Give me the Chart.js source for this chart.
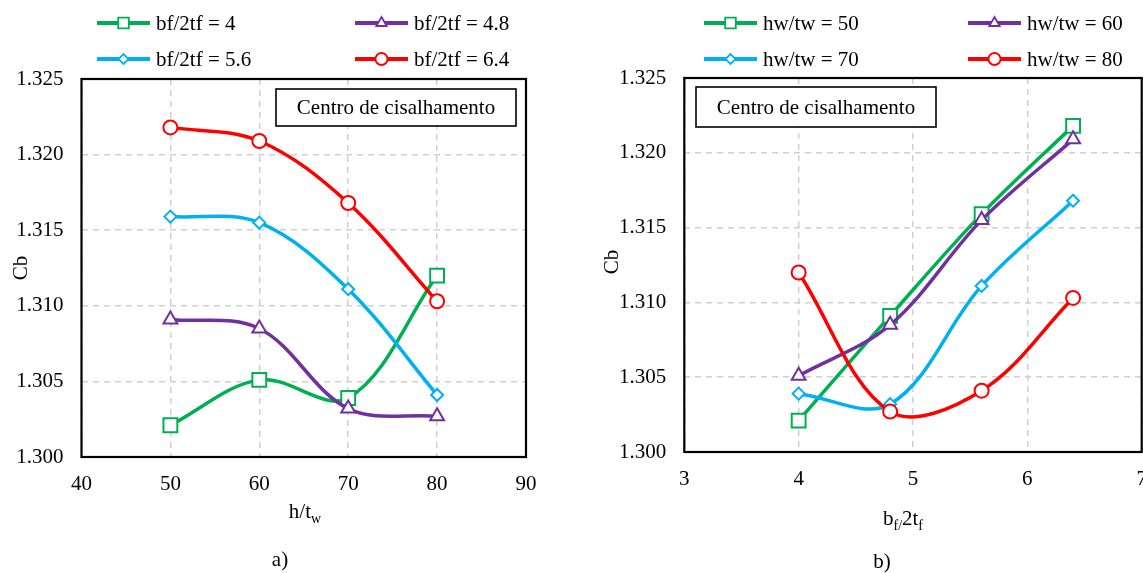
<!DOCTYPE html>
<html>
<head>
<meta charset="utf-8">
<script src="https://cdn.jsdelivr.net/npm/chart.js@4.4.0/dist/chart.umd.min.js"></script>
<style>
  html, body { margin: 0; padding: 0; background: #fff; }
  #wrap { position: relative; width: 1143px; height: 573px; }
  #wrap canvas { position: absolute; left: 0; top: 0; }
</style>
</head>
<body>
<div id="wrap">
  <canvas id="chartA" width="1143" height="573"></canvas>
  <canvas id="chartB" width="1143" height="573"></canvas>
</div>
<script>
// x values of the two plots
var hwValues = [50, 60, 70, 80];
var bfValues = [4, 4.8, 5.6, 6.4];

// Cb read off plot a), one array per bf/2tf curve (indexed by hwValues)
var cbBf4  = [1.3021, 1.3051, 1.3039, 1.3120];
var cbBf48 = [1.3091, 1.3085, 1.3032, 1.3027];
var cbBf56 = [1.3159, 1.3155, 1.3111, 1.3041];
var cbBf64 = [1.3218, 1.3209, 1.3168, 1.3103];

var leftLabels  = ['bf/2tf = 4', 'bf/2tf = 4.8', 'bf/2tf = 5.6', 'bf/2tf = 6.4'];
var rightLabels = ['hw/tw = 50', 'hw/tw = 60', 'hw/tw = 70', 'hw/tw = 80'];

var yTicks = [1.300, 1.305, 1.310, 1.315, 1.320, 1.325];
var leftXTicks = [40, 50, 60, 70, 80, 90];
var rightXTicks = [3, 4, 5, 6, 7];

var colors = ['#00b050', '#7030a0', '#00b0f0', '#ff0000'];
var styles = ['rect', 'triangle', 'rectRot', 'circle'];
var radii = [9.8, 8, 6, 7];
var legendRadii = [7.5, 6, 5, 6];

var FONT = "'Liberation Serif', 'Times New Roman', serif";

// plot b) uses the same numbers, read the other way round
var byBf = [cbBf4, cbBf48, cbBf56, cbBf64];
var byHw = $map(hwValues, function(_, j) {
    return $map(byBf, function(arr) { return arr[j]; });
});

function $map(arr, fn) {
    var out = [];
    for (var i = 0; i < arr.length; i++) out.push(fn(arr[i], i));
    return out;
}

function make_datasets(xs, series, labels) {
    return $map(series, function(ys, i) {
        return {
            label: labels[i],
            data: $map(xs, function(x, k) { return {x: x, y: ys[k]}; }),
            borderColor: colors[i],
            backgroundColor: '#fff',
            borderWidth: 3.5,
            pointStyle: styles[i],
            pointRadius: radii[i],
            pointBorderWidth: 2,
            pointBorderColor: colors[i],
            pointBackgroundColor: '#fff',
            tension: 0.35,
            order: series.length - 1 - i
        };
    });
}

function draw_marker(ctx, style, r, x, y) {
    if (Chart.helpers && Chart.helpers.drawPoint) {
        Chart.helpers.drawPoint(ctx, {pointStyle: style, radius: r, rotation: 0, borderWidth: ctx.lineWidth}, x, y);
        return;
    }
    ctx.beginPath();
    ctx.arc(x, y, r, 0, Math.PI * 2);
    ctx.fill();
    ctx.stroke();
}

// extra drawing: frame, legend, note box, axis titles
function decor_plugin(opt) {
    return {
        id: 'decor',
        beforeDatasetsDraw: function(chart) {
            var a = chart.chartArea, ctx = chart.ctx;
            ctx.save();
            ctx.strokeStyle = '#000';
            ctx.lineWidth = 2.2;
            ctx.strokeRect(a.left, a.top, a.right - a.left, a.bottom - a.top);
            ctx.restore();
        },
        afterDraw: function(chart) {
            var ctx = chart.ctx;
            ctx.save();
            // legend
            $map(opt.labels, function(label, i) {
                var pos = opt.legend[i];
                ctx.strokeStyle = colors[i];
                ctx.lineWidth = 4;
                ctx.beginPath();
                ctx.moveTo(pos[0], pos[1]);
                ctx.lineTo(pos[0] + 53, pos[1]);
                ctx.stroke();
                ctx.fillStyle = '#fff';
                ctx.lineWidth = 1.8;
                draw_marker(ctx, styles[i], legendRadii[i], pos[0] + 26.5, pos[1]);
                ctx.fillStyle = '#000';
                ctx.font = '21px ' + FONT;
                ctx.textAlign = 'left';
                ctx.textBaseline = 'middle';
                ctx.fillText(label, pos[0] + 59, pos[1] + 1);
            });
            // note box
            var b = opt.box;
            ctx.fillStyle = '#fff';
            ctx.fillRect(b[0], b[1], b[2], b[3]);
            ctx.strokeStyle = '#000';
            ctx.lineWidth = 1.6;
            ctx.strokeRect(b[0], b[1], b[2], b[3]);
            ctx.fillStyle = '#000';
            ctx.font = '21px ' + FONT;
            ctx.textAlign = 'center';
            ctx.textBaseline = 'middle';
            ctx.fillText('Centro de cisalhamento', b[0] + b[2] / 2, b[1] + b[3] / 2 + 1);
            // y title
            ctx.save();
            ctx.translate(opt.yTitle[0], opt.yTitle[1]);
            ctx.rotate(-Math.PI / 2);
            ctx.fillText('Cb', 0, 0);
            ctx.restore();
            // x title with subscripts
            var parts = opt.xTitle.parts;
            var total = 0;
            $map(parts, function(p) {
                ctx.font = (p[1] ? '14px ' : '21px ') + FONT;
                total += ctx.measureText(p[0]).width;
            });
            var x = opt.xTitle.x - total / 2;
            ctx.textAlign = 'left';
            ctx.textBaseline = 'alphabetic';
            $map(parts, function(p) {
                ctx.font = (p[1] ? '14px ' : '21px ') + FONT;
                ctx.fillText(p[0], x, opt.xTitle.y + (p[1] ? 5 : 0));
                x += ctx.measureText(p[0]).width;
            });
            // panel letter
            ctx.font = '21px ' + FONT;
            ctx.textAlign = 'center';
            ctx.textBaseline = 'middle';
            ctx.fillText(opt.panel[0], opt.panel[1], opt.panel[2]);
            ctx.restore();
        }
    };
}

function make_chart(id, o) {
    return new Chart(document.getElementById(id), {
        type: 'line',
        data: {datasets: make_datasets(o.xs, o.series, o.labels)},
        options: {
            responsive: false,
            animation: false,
            devicePixelRatio: 1,
            layout: {autoPadding: false, padding: o.padding},
            plugins: {legend: {display: false}, tooltip: {enabled: false}},
            scales: {
                x: {
                    type: 'linear',
                    min: o.xTicks[0],
                    max: o.xTicks[o.xTicks.length - 1],
                    afterBuildTicks: function(s) { s.ticks = $map(o.xTicks, function(v) { return {value: v}; }); },
                    afterFit: function(s) { s.height = 40; s.paddingLeft = 0; s.paddingRight = 0; },
                    border: {display: false, dash: [6, 5]},
                    grid: {color: '#d0d0d0', lineWidth: 1.5, drawTicks: false},
                    ticks: {padding: 15, color: '#000', font: {family: FONT, size: 21}, maxRotation: 0, autoSkip: false}
                },
                y: {
                    min: yTicks[0],
                    max: yTicks[yTicks.length - 1],
                    afterBuildTicks: function(s) { s.ticks = $map(yTicks, function(v) { return {value: v}; }); },
                    afterFit: function(s) { s.width = o.yWidth; s.paddingTop = 0; s.paddingBottom = 0; },
                    border: {display: false, dash: [6, 5]},
                    grid: {color: '#d0d0d0', lineWidth: 1.5, drawTicks: false},
                    ticks: {padding: 18, color: '#000', font: {family: FONT, size: 21},
                            callback: function(v) { return Number(v).toFixed(3); }}
                }
            }
        },
        plugins: [decor_plugin(o)]
    });
}

make_chart('chartA', {
    xs: hwValues, series: byBf, labels: leftLabels, xTicks: leftXTicks,
    padding: {left: 0, right: 617, top: 79, bottom: 76},
    yWidth: 81.5,
    legend: [[97, 23], [355, 23], [97, 59], [355, 59]],
    box: [276, 89, 240, 37],
    yTitle: [21, 268],
    xTitle: {x: 305, y: 518, parts: [['h/t', 0], ['w', 1]]},
    panel: ['a)', 280, 560]
});

make_chart('chartB', {
    xs: bfValues, series: byHw, labels: rightLabels, xTicks: rightXTicks,
    padding: {left: 584.3, right: 1.3, top: 78, bottom: 81},
    yWidth: 100,
    legend: [[704, 23], [968, 23], [704, 59], [968, 59]],
    box: [696, 87, 240, 40],
    yTitle: [612, 262],
    xTitle: {x: 903, y: 525, parts: [['b', 0], ['f/', 1], ['2t', 0], ['f', 1]]},
    panel: ['b)', 882, 562]
});
</script>
</body>
</html>
